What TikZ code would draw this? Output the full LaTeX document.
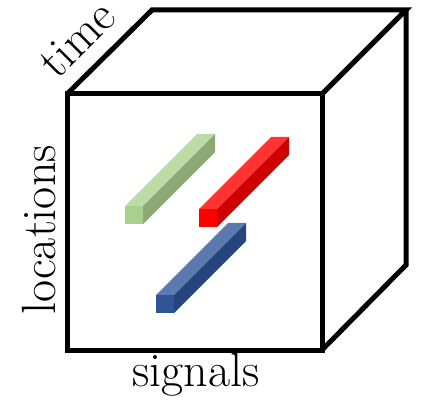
\documentclass[tikz,border=0pt]{standalone}
\definecolor{gfront}{HTML}{A9D18E}
\definecolor{gtop}{HTML}{BDDBA6}
\definecolor{gside}{HTML}{8BAA73}
\definecolor{rfront}{HTML}{FF0000}
\definecolor{rtop}{HTML}{FF3333}
\definecolor{rside}{HTML}{CC0000}
\definecolor{bfront}{HTML}{2F5597}
\definecolor{btop}{HTML}{5A7AB0}
\definecolor{bside}{HTML}{25457E}
\tikzset{
  edge/.style={line width=5pt, line join=miter},
  lbl/.style={font=\fontsize{48}{56}\selectfont, inner sep=0pt},
}
\newcommand{\mybar}[5]{% x0,y0,front,top,side ; size 18, offset (72,-72)
  \fill[#3] (#1,#2) rectangle ++(18,18);
  \fill[#4] (#1,#2) -- ++(18,0) -- ++(72,-72) -- ++(-18,0) -- cycle;
  \fill[#5] (#1+18,#2) -- ++(0,18) -- ++(72,-72) -- ++(0,-18) -- cycle;
}
\begin{document}
\begin{tikzpicture}[x=1pt,y=-1pt]
\useasboundingbox (0,0) rectangle (421,401);
\coordinate (ftl) at (67,94);
\coordinate (ftr) at (322,94);
\coordinate (fbr) at (322,350);
\coordinate (fbl) at (67,350);
\coordinate (btl) at (152,10);
\coordinate (btr) at (406,10);
\coordinate (bbr) at (406,265);
% bars
\mybar{125}{206}{gfront}{gtop}{gside}
\mybar{199}{209}{rfront}{rtop}{rside}
\mybar{156}{295}{bfront}{btop}{bside}
% cube
\draw[edge] (ftl) -- (ftr) -- (fbr) -- (fbl) -- cycle;
\draw[edge] (ftl) -- (btl) -- (btr) -- (ftr);
\draw[edge] (btr) -- (bbr) -- (fbr);
% labels
\node[lbl, anchor=base] (sig) at (196,386) {signals};
\node[lbl, anchor=base, rotate=90] (loc) at (55,230) {locations};
\node[lbl, anchor=base, rotate=45] (tim) at (88,50) {time};
\end{tikzpicture}
\end{document}
